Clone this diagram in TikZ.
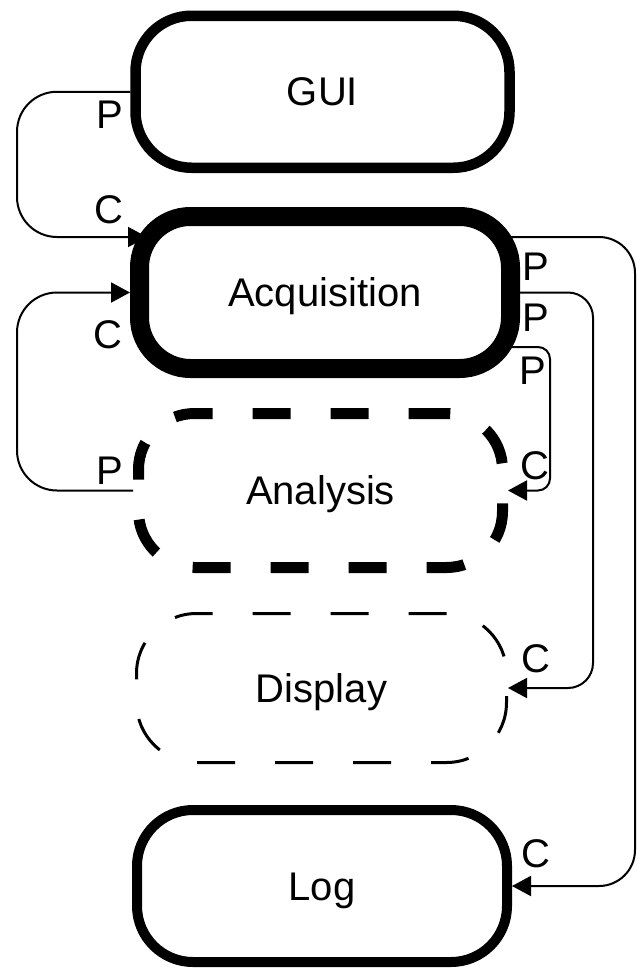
\documentclass[tikz,border=0pt]{standalone}
\usepackage{fontspec}
\setmainfont{Liberation Sans}
\usetikzlibrary{arrows.meta,calc}
\begin{document}
\begin{tikzpicture}[x=1pt,y=-1pt,
  txt/.style={font=\fontsize{40}{44}\selectfont, inner sep=0pt, text height=28pt, text depth=0pt},
  box/.style={txt, draw, minimum width=371pt, minimum height=152pt},
  lab/.style={txt},
  conn/.style={line width=2pt, -{Triangle[length=19pt,width=20pt]}},
  dashbox/.style={dash pattern=on 38pt off 40pt}
]
\useasboundingbox (0,0) rectangle (637,969);
\coordinate (L) at (17,0);
\coordinate (R1) at (635,0);
\coordinate (R2) at (593,0);
\coordinate (R3) at (550,0);

\node[box, line width=10.5pt, rounded corners=56pt, minimum width=374pt] (gui) at (322.5,91.75) {GUI};
\node[box, line width=19pt, rounded corners=51pt] (acq) at (325,292.5) {Acquisition};
\node[box, dashbox, line width=11pt, rounded corners=56pt, minimum width=364pt, minimum height=154pt] (ana) at (320.5,490.5) {Analysis};
\node[box, dashbox, line width=3pt, rounded corners=60pt, minimum width=370pt, minimum height=149pt] (disp) at (321.5,688) {Display};
\node[box, line width=10pt, rounded corners=56pt, minimum width=370pt] (log) at (322,886) {Log};

% connectors
\draw[conn, rounded corners=40pt] (gui.west) -- (gui.west -| L) |- ($(acq.west)+(17,-55.5)$);
\draw[conn, rounded corners=40pt] (ana.west) -- (ana.west -| L) |- (acq.west);
\draw[conn, rounded corners=36pt] ($(acq.east)+(-12,-55.5)$) -| (R1 |- log.east) -- (log.east);
\draw[conn, rounded corners=25pt] (acq.east) -| (R2 |- disp.east) -- (disp.east);
\draw[conn, rounded corners=12pt] ($(acq.east)+(-12,54.5)$) -| (R3 |- ana.east) -- (ana.east);

% labels
\node[lab] (p1) at (110,114) {P};
\node[lab] (c1) at (109,209.5) {C};
\node[lab] (c2) at (108,334.5) {C};
\node[lab] (p2) at (110,470) {P};
\node[lab] (p3) at (536,266.5) {P};
\node[lab] (p4) at (536,317) {P};
\node[lab] (p5) at (533,370) {P};
\node[lab] (c3) at (535,465.5) {C};
\node[lab] (c4) at (536,658.5) {C};
\node[lab] (c5) at (536,853.5) {C};
\end{tikzpicture}
\end{document}
